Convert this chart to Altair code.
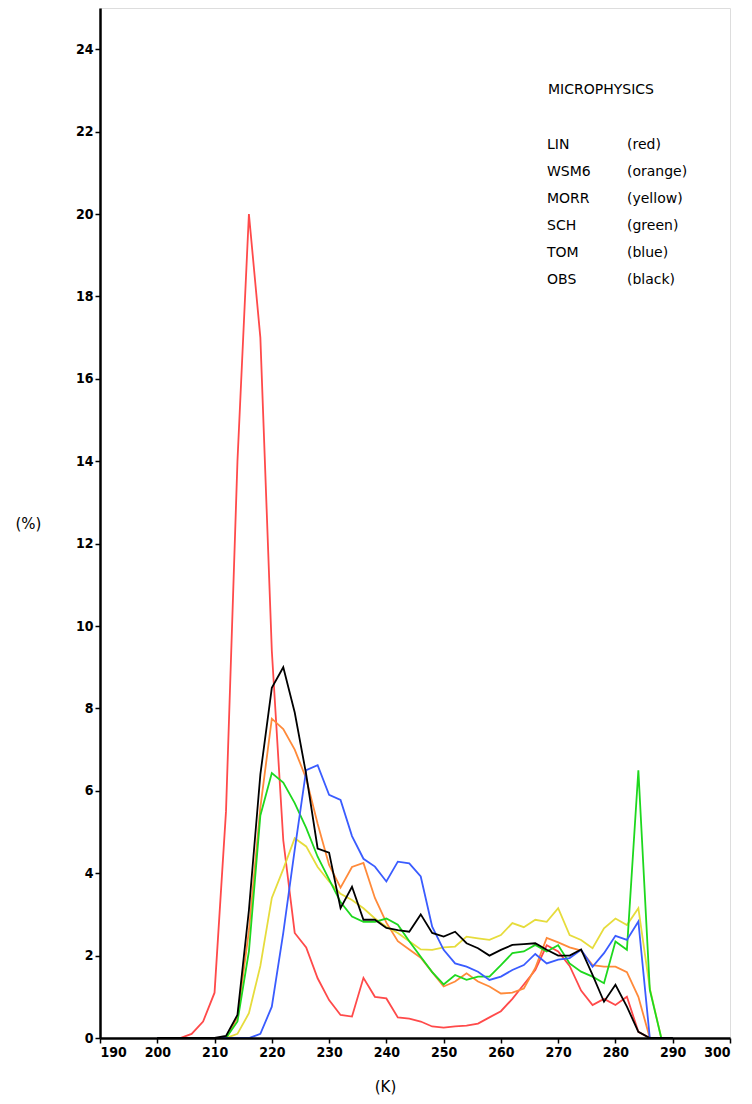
import altair as alt
import pandas as pd

# Temperature bins (K)
temps = list(range(200, 292, 2))

lin = [0, 0, 0, 0.1, 0.4, 1.1, 5.5, 14.0, 20.0, 17.0, 9.4, 4.8, 2.55, 2.2, 1.45, 0.92,
       0.56, 0.52, 1.46, 1.0, 0.96, 0.5, 0.47, 0.4, 0.28, 0.25, 0.28, 0.3, 0.35, 0.5,
       0.65, 0.95, 1.3, 1.65, 2.25, 2.1, 1.75, 1.15, 0.8, 0.95, 0.8, 1.0, 0.15, 0, 0, 0]
wsm6 = [0, 0, 0, 0, 0, 0, 0, 0.5, 2.6, 5.6, 7.75, 7.5, 7.0, 6.3, 5.2, 4.2,
        3.65, 4.15, 4.25, 3.4, 2.8, 2.35, 2.15, 1.95, 1.6, 1.25, 1.37, 1.57, 1.37, 1.25,
        1.08, 1.1, 1.2, 1.7, 2.43, 2.32, 2.2, 2.12, 1.77, 1.73, 1.73, 1.6, 1.0, 0, 0, 0]
morr = [0, 0, 0, 0, 0, 0, 0, 0.1, 0.6, 1.75, 3.4, 4.1, 4.85, 4.65, 4.15, 3.8,
        3.5, 3.35, 3.15, 2.9, 2.7, 2.55, 2.35, 2.15, 2.14, 2.2, 2.22, 2.46, 2.42, 2.38,
        2.5, 2.79, 2.69, 2.87, 2.82, 3.15, 2.5, 2.38, 2.18, 2.66, 2.9, 2.74, 3.15, 1.2, 0, 0]
sch = [0, 0, 0, 0, 0, 0, 0, 0.4, 2.1, 5.4, 6.43, 6.2, 5.7, 5.1, 4.4, 3.85,
       3.3, 2.95, 2.82, 2.82, 2.9, 2.75, 2.35, 1.97, 1.6, 1.3, 1.53, 1.41, 1.49, 1.49,
       1.77, 2.06, 2.1, 2.26, 2.1, 2.25, 1.81, 1.61, 1.49, 1.33, 2.34, 2.14, 6.5, 1.17, 0, 0]
tom = [0, 0, 0, 0, 0, 0, 0, 0, 0, 0.1, 0.76, 2.55, 4.57, 6.5, 6.62, 5.9,
       5.78, 4.9, 4.35, 4.16, 3.8, 4.28, 4.24, 3.92, 2.7, 2.14, 1.81, 1.73, 1.61, 1.41,
       1.49, 1.65, 1.77, 2.04, 1.81, 1.9, 1.94, 2.14, 1.73, 2.06, 2.48, 2.38, 2.83, 0, 0, 0]
obs = [0, 0, 0, 0, 0, 0, 0.05, 0.56, 3.1, 6.4, 8.5, 9.0, 7.9, 6.4, 4.6, 4.5,
       3.15, 3.67, 2.87, 2.87, 2.67, 2.62, 2.58, 3.0, 2.55, 2.46, 2.58, 2.3, 2.18, 2.0,
       2.14, 2.26, 2.28, 2.3, 2.14, 2.0, 2.0, 2.15, 1.53, 0.88, 1.29, 0.76, 0.15, 0, 0, 0]

schemes = ["LIN", "WSM6", "MORR", "SCH", "TOM", "OBS"]
color_names = ["(red)", "(orange)", "(yellow)", "(green)", "(blue)", "(black)"]
colors = ["#ff4a4a", "#ff8a3a", "#e6dc3c", "#1ed81e", "#3a5cff", "#000000"]
series = [lin, wsm6, morr, sch, tom, obs]

x_ticks = list(range(190, 301, 10))
y_ticks = list(range(0, 25, 2))

rows = []
for name, vals in zip(schemes, series):
    for t, v in zip(temps, vals):
        rows.append({"K": t, "pct": v, "scheme": name})
df = pd.DataFrame(rows)

legend_df = pd.DataFrame({"name": schemes, "cname": color_names, "row": list(range(6))})

FONT = "DejaVu Sans Condensed, DejaVu Sans, sans-serif"
TFONT = "DejaVu Sans, sans-serif"

lines = alt.Chart(df).mark_line(strokeWidth=1.8, strokeJoin="miter").encode(
    x=alt.X("K:Q", scale=alt.Scale(domain=[190, 300], nice=False, zero=False),
            axis=alt.Axis(values=x_ticks, title="(K)", grid=False, tickSize=5,
                          labelFont=FONT, labelFontWeight="bold", labelFontSize=14,
                          labelColor="black", tickColor="black", tickWidth=1.5,
                          domainColor="black", domainWidth=2.5, zindex=1,
                          labelPadding=2,
                          titleFont=TFONT, titleFontWeight="normal",
                          titleFontSize=15, titleColor="black",
                          titleX=285, titleY=48, titleBaseline="middle")),
    y=alt.Y("pct:Q", scale=alt.Scale(domain=[0, 25], nice=False),
            axis=alt.Axis(values=y_ticks, title="(%)", grid=False, tickSize=5,
                          labelFont=FONT, labelFontWeight="bold", labelFontSize=14,
                          labelColor="black", tickColor="black", tickWidth=1.5,
                          domainColor="black", domainWidth=2.5, zindex=1,
                          labelPadding=2,
                          titleFont=TFONT, titleFontWeight="normal",
                          titleFontSize=15, titleColor="black", titleAngle=0,
                          titleX=-72, titleY=515, titleAlign="center",
                          titleBaseline="middle")),
    color=alt.Color("scheme:N", scale=alt.Scale(domain=schemes, range=colors), legend=None),
    order=alt.Order("order:Q"),
).transform_calculate(
    order="indexof(['LIN','WSM6','MORR','SCH','TOM','OBS'], datum.scheme)"
)

title_txt = alt.Chart(pd.DataFrame({"t": ["MICROPHYSICS"]})).mark_text(
    align="left", baseline="middle", font=TFONT, fontSize=14, color="black"
).encode(text="t:N", x=alt.value(448), y=alt.value(82))

names_txt = alt.Chart(legend_df).mark_text(
    align="left", baseline="middle", font=TFONT, fontSize=14, color="black"
).encode(
    text="name:N",
    x=alt.value(447),
    y=alt.Y("row:Q", scale=alt.Scale(domain=[0, 25], range=[137, 812]), axis=None),
)

cnames_txt = alt.Chart(legend_df).mark_text(
    align="left", baseline="middle", font=TFONT, fontSize=14, color="black"
).encode(
    text="cname:N",
    x=alt.value(527),
    y=alt.Y("row:Q", scale=alt.Scale(domain=[0, 25], range=[137, 812]), axis=None),
)

legend_layer = alt.layer(title_txt, names_txt, cnames_txt).resolve_scale(y="independent")

chart = alt.layer(lines, legend_layer).resolve_scale(y="independent").properties(
    width=630, height=1030,
    autosize=alt.AutoSizeParams(type="none"),
    padding={"left": 92, "top": 0, "right": 14, "bottom": 58},
).configure_view(stroke="black", strokeWidth=2.5).configure(background="white")

chart.save("out.html", embed_options={"renderer": "svg", "actions": False})
